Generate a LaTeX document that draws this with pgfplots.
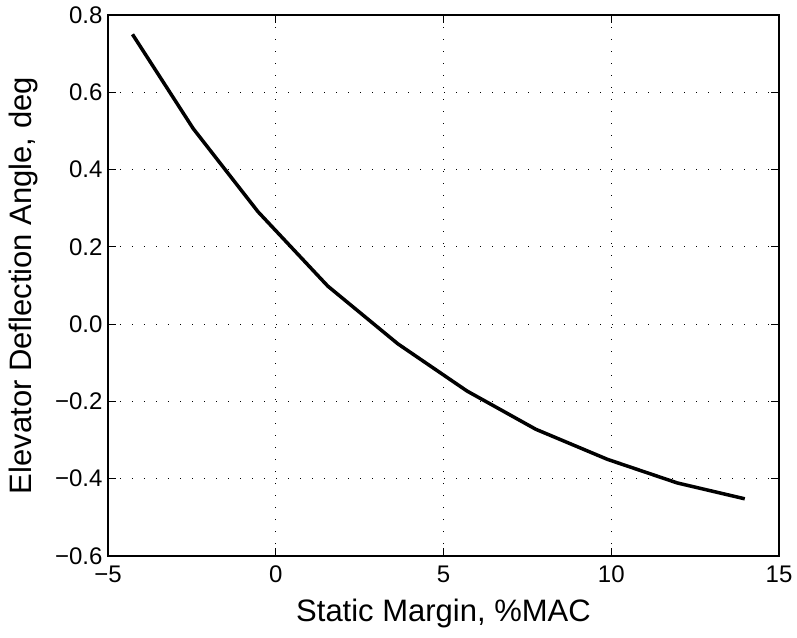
\documentclass[border=0pt]{standalone}
\usepackage{pgfplots}
\pgfplotsset{compat=1.18}
\usepackage{fontspec}
\setmainfont{Liberation Sans}
\begin{document}
\begin{tikzpicture}
\begin{axis}[
  name=ax,
  scale only axis,
  width=671pt, height=541pt,
  xmin=-5, xmax=15, ymin=-0.6, ymax=0.8,
  xtick={-5,0,5,10,15},
  xticklabels={−5,0,5,10,15},
  ytick={-0.6,-0.4,-0.2,0,0.2,0.4,0.6,0.8},
  yticklabels={−0.6,−0.4,−0.2,0.0,0.2,0.4,0.6,0.8},
  tick align=inside,
  major tick length=8pt,
  tick style={black, line width=0.9pt},
  axis line style={black, line width=1.2pt},
  grid=major,
  major grid style={black, line width=1pt, dash pattern=on 1pt off 11pt},
  x tick label style={font=\fontsize{24}{24}\selectfont, yshift=-6pt},
  y tick label style={font=\fontsize{24}{24}\selectfont, xshift=-2pt},
  xlabel={Static Margin, \%MAC},
  ylabel={Elevator Deflection Angle, deg},
  label style={font=\fontsize{31}{31}\selectfont},
  xlabel style={at={(axis description cs:0.5,0)}, anchor=base, yshift=-65pt},
  ylabel style={at={(axis description cs:0,0.5)}, anchor=base, yshift=76pt},
  clip=false,
]
\addplot[black, line width=3.5pt] coordinates {
  (-4.27, 0.750)
  (-2.46, 0.506)
  (-0.53, 0.291)
  (1.55, 0.0985)
  (3.64, -0.051)
  (5.70, -0.173)
  (7.75, -0.272)
  (9.89, -0.350)
  (11.97, -0.411)
  (13.98, -0.452)
};
\end{axis}
\pgfresetboundingbox
\path[use as bounding box] ([shift={(-108pt,-81pt)}]ax.south west) rectangle ([shift={(18pt,15pt)}]ax.north east);
\end{tikzpicture}
\end{document}
